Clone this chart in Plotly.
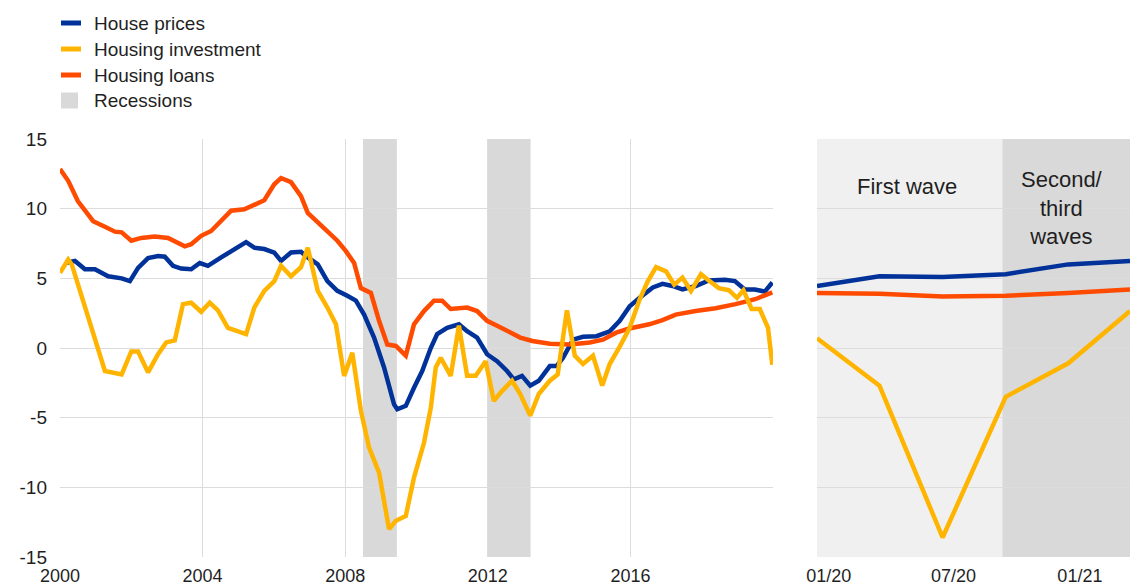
import plotly.graph_objects as go

# ---------------- data ----------------
series_names = ["House prices", "Housing investment", "Housing loans", "Recessions"]

# main panel (decimal years)
hp_x = [2000.15, 2000.42, 2000.7, 2000.98, 2001.35, 2001.73, 2001.96, 2002.19, 2002.47, 2002.75,
        2002.94, 2003.17, 2003.4, 2003.68, 2003.92, 2004.15, 2004.52, 2004.9, 2005.22, 2005.45,
        2005.73, 2006.01, 2006.2, 2006.48, 2006.76, 2006.95, 2007.23, 2007.5, 2007.78, 2008.06,
        2008.3, 2008.53, 2008.81, 2009.09, 2009.37, 2009.46, 2009.7, 2009.93, 2010.16, 2010.4,
        2010.58, 2010.86, 2011.19, 2011.42, 2011.7, 2011.98, 2012.26, 2012.54, 2012.73, 2012.96,
        2013.19, 2013.43, 2013.74, 2013.93, 2014.11, 2014.39, 2014.67, 2015.05, 2015.42, 2015.7,
        2015.98, 2016.26, 2016.63, 2016.9, 2017.18, 2017.46, 2017.83, 2018.2, 2018.65, 2018.93,
        2019.21, 2019.49, 2019.77, 2019.98]
hp_y = [6.1, 6.25, 5.65, 5.65, 5.15, 5.0, 4.8, 5.75, 6.45, 6.6,
        6.55, 5.9, 5.7, 5.65, 6.1, 5.9, 6.5, 7.1, 7.6, 7.2,
        7.1, 6.85, 6.25, 6.85, 6.9, 6.5, 6.0, 4.8, 4.1, 3.75,
        3.4, 2.4, 0.75, -1.4, -4.05, -4.4, -4.15, -2.85, -1.65, 0.0,
        1.0, 1.45, 1.7, 1.2, 0.75, -0.45, -0.95, -1.65, -2.25, -2.0,
        -2.7, -2.35, -1.3, -1.3, -0.7, 0.6, 0.8, 0.85, 1.2, 1.95,
        3.0, 3.6, 4.35, 4.6, 4.45, 4.2, 4.45, 4.85, 4.9, 4.8,
        4.2, 4.2, 4.05, 4.7]

inv_x = [2000.0, 2000.23, 2000.33, 2000.8, 2001.26, 2001.73, 2002.0, 2002.19, 2002.47, 2002.75,
         2002.98, 2003.22, 2003.45, 2003.68, 2003.96, 2004.2, 2004.43, 2004.71, 2005.22, 2005.45,
         2005.73, 2006.01, 2006.2, 2006.48, 2006.76, 2006.95, 2007.23, 2007.5, 2007.74, 2007.97,
         2008.2, 2008.44, 2008.67, 2008.95, 2009.23, 2009.42, 2009.7, 2009.93, 2010.21, 2010.4,
         2010.54, 2010.68, 2010.96, 2011.19, 2011.42, 2011.66, 2011.94, 2012.17, 2012.36, 2012.68,
         2012.91, 2013.19, 2013.43, 2013.74, 2013.96, 2014.22, 2014.44, 2014.67, 2014.95, 2015.21,
         2015.42, 2015.7, 2015.98, 2016.26, 2016.49, 2016.72, 2017.0, 2017.23, 2017.46, 2017.7,
         2017.98, 2018.2, 2018.48, 2018.76, 2018.99, 2019.17, 2019.4, 2019.63, 2019.86, 2019.98]
inv_y = [5.4, 6.35, 6.0, 2.2, -1.65, -1.9, -0.25, -0.25, -1.75, -0.45,
         0.4, 0.55, 3.15, 3.25, 2.6, 3.25, 2.7, 1.45, 1.0, 2.9,
         4.1, 4.8, 5.9, 5.15, 5.8, 7.2, 4.1, 2.9, 1.7, -2.0,
         -0.35, -4.5, -7.15, -8.95, -13.0, -12.4, -12.05, -9.3, -6.8, -4.3,
         -1.4, -0.7, -2.0, 1.6, -2.0, -2.0, -0.95, -3.8, -3.2, -2.35,
         -3.3, -4.85, -3.3, -2.35, -1.9, 2.7, -0.55, -1.15, -0.55, -2.7,
         -1.15, 0.1, 1.45, 3.5, 4.8, 5.8, 5.5, 4.55, 5.05, 4.1,
         5.3, 4.85, 4.3, 4.15, 3.6, 4.15, 2.8, 2.8, 1.45, -1.2]

loan_x = [2000.0, 2000.23, 2000.5, 2000.93, 2001.26, 2001.54, 2001.73, 2002.0, 2002.28, 2002.66,
          2003.03, 2003.5, 2003.68, 2003.96, 2004.24, 2004.52, 2004.8, 2005.17, 2005.45, 2005.73,
          2006.01, 2006.2, 2006.48, 2006.76, 2006.95, 2007.23, 2007.5, 2007.78, 2008.02, 2008.25,
          2008.44, 2008.72, 2008.95, 2009.18, 2009.42, 2009.7, 2009.93, 2010.21, 2010.49, 2010.72,
          2010.96, 2011.42, 2011.7, 2011.98, 2012.26, 2012.54, 2012.91, 2013.25, 2013.74, 2014.3,
          2014.86, 2015.23, 2015.6, 2015.97, 2016.53, 2016.9, 2017.27, 2017.83, 2018.39, 2018.95,
          2019.5, 2019.98]
loan_y = [12.85, 12.0, 10.55, 9.1, 8.7, 8.35, 8.3, 7.7, 7.9, 8.0,
          7.9, 7.3, 7.45, 8.05, 8.4, 9.1, 9.85, 9.95, 10.3, 10.6,
          11.75, 12.2, 11.9, 10.9, 9.7, 9.0, 8.3, 7.7, 6.95, 6.1,
          4.3, 3.95, 1.95, 0.25, 0.15, -0.55, 1.7, 2.65, 3.4, 3.4,
          2.8, 2.9, 2.65, 1.95, 1.6, 1.2, 0.75, 0.5, 0.3, 0.25,
          0.4, 0.6, 1.1, 1.4, 1.7, 2.0, 2.4, 2.65, 2.85, 3.15,
          3.5, 4.0]

rec_start = [2008.5, 2012.0]
rec_end = [2009.45, 2013.2]

# COVID panel (quarterly)
covid_dates = ["2019-12-15", "2020-03-15", "2020-06-15", "2020-09-15", "2020-12-15", "2021-03-15"]
covid_hp = [4.45, 5.15, 5.1, 5.3, 6.0, 6.25]
covid_inv = [0.7, -2.7, -13.6, -3.5, -1.1, 2.65]
covid_loans = [3.95, 3.9, 3.7, 3.75, 3.95, 4.2]

wave_start = ["2019-12-15", "2020-09-10"]
wave_end = ["2020-09-10", "2021-03-15"]
wave_labels = ["First wave", "Second/<br>third<br>waves"]

# axis ticks
y_ticks = [15, 10, 5, 0, -5, -10, -15]
y_tick_text = ["15", "10", "5", "0", "-5", "-10", "-15"]
year_ticks = [2000, 2004, 2008, 2012, 2016, 2020]
year_tick_text = ["2000", "2004", "2008", "2012", "2016", ""]
covid_ticks = ["2020-01-01", "2020-07-01", "2021-01-01"]
covid_tick_text = ["01/20", "07/20", "01/21"]

# ---------------- style ----------------
BLUE = "#003299"
YELLOW = "#FFB400"
ORANGE = "#FF4B00"
REC_GREY = "#D9D9D9"
LIGHT_GREY = "#F0F0F0"
GRID = "#DCDCDC"
TXT = "#1f1f1f"
FONT = "Liberation Sans, Arial, sans-serif"
LW = 4.5

fig = go.Figure()

# main panel lines
fig.add_trace(go.Scatter(x=hp_x, y=hp_y, mode="lines", name=series_names[0],
                         line=dict(color=BLUE, width=LW), xaxis="x", yaxis="y"))
fig.add_trace(go.Scatter(x=loan_x, y=loan_y, mode="lines", name=series_names[2],
                         line=dict(color=ORANGE, width=LW), xaxis="x", yaxis="y"))
fig.add_trace(go.Scatter(x=inv_x, y=inv_y, mode="lines", name=series_names[1],
                         line=dict(color=YELLOW, width=LW), xaxis="x", yaxis="y"))

# covid panel lines
fig.add_trace(go.Scatter(x=covid_dates, y=covid_hp, mode="lines", name=series_names[0],
                         line=dict(color=BLUE, width=LW), xaxis="x2", yaxis="y2"))
fig.add_trace(go.Scatter(x=covid_dates, y=covid_loans, mode="lines", name=series_names[2],
                         line=dict(color=ORANGE, width=LW), xaxis="x2", yaxis="y2"))
fig.add_trace(go.Scatter(x=covid_dates, y=covid_inv, mode="lines", name=series_names[1],
                         line=dict(color=YELLOW, width=LW), xaxis="x2", yaxis="y2"))

shapes = []
for s, e in zip(rec_start, rec_end):
    shapes.append(dict(type="rect", xref="x", yref="y domain", x0=s, x1=e, y0=0, y1=1,
                       fillcolor=REC_GREY, line=dict(width=0), layer="below"))
wave_fill = [LIGHT_GREY, REC_GREY]
for s, e, c in zip(wave_start, wave_end, wave_fill):
    shapes.append(dict(type="rect", xref="x2", yref="y2 domain", x0=s, x1=e, y0=0, y1=1,
                       fillcolor=c, line=dict(width=0), layer="below"))

# Plot area (page px): x 60..1130, y 139..557
PW, PH = 1070.0, 418.0
def px_x(x):
    return (x - 60) / PW
def px_y(y):
    return (557 - y) / PH

legend_rows = [23, 49, 75, 100.5]
legend_colors = [BLUE, YELLOW, ORANGE]
annotations = []
for i, name in enumerate(series_names):
    yc = legend_rows[i]
    if i < 3:
        shapes.append(dict(type="line", xref="paper", yref="paper",
                           x0=px_x(61), x1=px_x(81), y0=px_y(yc), y1=px_y(yc),
                           line=dict(color=legend_colors[i], width=5)))
    else:
        shapes.append(dict(type="rect", xref="paper", yref="paper",
                           x0=px_x(61), x1=px_x(78), y0=px_y(yc - 8), y1=px_y(yc + 8),
                           fillcolor=REC_GREY, line=dict(width=0)))
    annotations.append(dict(text=name, xref="paper", yref="paper", x=px_x(92), y=px_y(yc),
                            xanchor="left", yanchor="middle", showarrow=False,
                            font=dict(size=19, color=TXT, family=FONT)))

wave_text_x = [0.2875, 0.783]
wave_text_y = [px_y(186), px_y(208)]
for lab, xx, yy in zip(wave_labels, wave_text_x, wave_text_y):
    annotations.append(dict(text=lab, xref="x2 domain", yref="paper", x=xx, y=yy,
                            xanchor="center", yanchor="middle", showarrow=False,
                            font=dict(size=22, color=TXT, family=FONT)))

axis_common = dict(showline=False, zeroline=False, ticks="", automargin=False)
y_font = dict(size=19, color=TXT, family=FONT)
x_font = dict(size=18, color=TXT, family=FONT)

fig.update_layout(
    width=1132, height=587,
    margin=dict(l=60, r=2, t=139, b=30),
    paper_bgcolor="white", plot_bgcolor="white",
    showlegend=False,
    font=dict(family=FONT, color=TXT),
    xaxis=dict(domain=[0, 713 / PW], range=[2000, 2020], tickmode="array",
               tickvals=year_ticks, ticktext=year_tick_text, showgrid=True, gridcolor=GRID,
               anchor="y", ticklabelstandoff=6, tickfont=x_font, **axis_common),
    yaxis=dict(range=[-15, 15], tickmode="array", tickvals=y_ticks, ticktext=y_tick_text,
               showgrid=True, gridcolor=GRID, anchor="x", ticklabelstandoff=12,
               tickfont=y_font, **axis_common),
    xaxis2=dict(domain=[757 / PW, 1.0], type="date", range=[wave_start[0], wave_end[-1]],
                tickmode="array", tickvals=covid_ticks, ticktext=covid_tick_text,
                showgrid=False, anchor="y2", ticklabelstandoff=6, tickfont=x_font,
                **axis_common),
    yaxis2=dict(range=[-15, 15], tickmode="array", tickvals=y_ticks, showticklabels=False,
                showgrid=True, gridcolor=GRID, anchor="x2", **axis_common),
    shapes=shapes,
    annotations=annotations,
)

# remove the default 8px page margin so the figure fills the window exactly
fig.write_html("out.html",
               config={"displayModeBar": False},
               post_script="document.body.style.margin='0px';document.body.style.overflow='hidden';")
